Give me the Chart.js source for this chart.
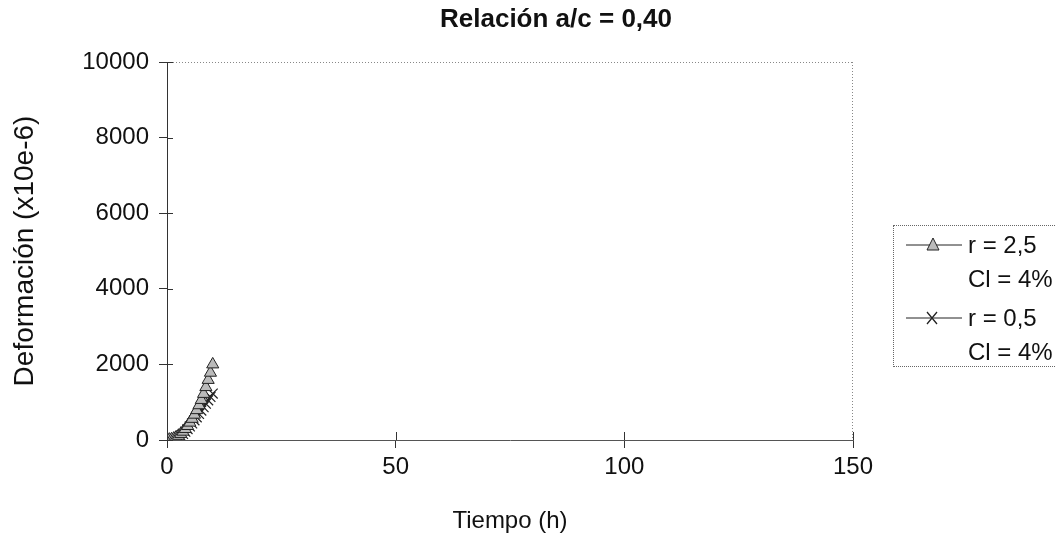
<!DOCTYPE html>
<html>
<head>
<meta charset="utf-8">
<script src="https://cdn.jsdelivr.net/npm/chart.js@4/dist/chart.umd.min.js"></script>
<style>
  html,body{margin:0;padding:0;background:#fff;}
  #wrap{position:relative;width:1055px;height:549px;font-family:"Liberation Sans",Arial,sans-serif;color:#111;}
  #title{position:absolute;left:0;width:1112px;top:3px;text-align:center;font-weight:bold;font-size:26px;}
  #legend{position:absolute;left:893px;top:225px;width:170px;height:142px;border:1px dotted #666;box-sizing:border-box;font-size:24px;}
  .row{position:absolute;left:12px;height:28px;display:flex;align-items:center;white-space:nowrap;}
  .row svg{margin-right:6px;}
  .sub{position:absolute;left:74px;white-space:nowrap;}
</style>
</head>
<body>
<div id="wrap">
  <canvas id="c" width="1055" height="549"></canvas>
  <div id="title">Relación a/c = 0,40</div>
  <div id="legend"></div>
</div>
<script>
// ---- data ----
const tiempo = [0,0.5,1,1.5,2,2.5,3,3.5,4,4.5,5,5.5,6,6.5,7,7.5,8,8.5,9,9.5,10];
const deform_r25 = [0,10,20,40,70,110,160,220,290,370,460,560,670,790,920,1060,1220,1400,1590,1780,2000];
const deform_r05 = [0,5,10,20,40,70,110,160,220,290,360,440,520,600,690,780,870,960,1050,1140,1230];
const seriesLabels = ["r = 2,5", "r = 0,5"];
const seriesSub = ["Cl = 4%", "Cl = 4%"];
const xTicks = [0,50,100,150];
const yTicks = [0,2000,4000,6000,8000,10000];

const toPts = (xs, ys) => xs.map((x,i)=>({x:x,y:ys[i]}));

const frame = {
  id:'frame',
  afterDraw(chart){
    const {ctx, chartArea:a, scales:{x,y}} = chart;
    ctx.save();
    ctx.strokeStyle='#888'; ctx.lineWidth=1; ctx.setLineDash([1,2]);
    ctx.beginPath(); ctx.moveTo(a.left,a.top+0.5); ctx.lineTo(a.right,a.top+0.5);
    ctx.moveTo(a.right-0.5,a.top); ctx.lineTo(a.right-0.5,a.bottom); ctx.stroke();
    ctx.setLineDash([]);
    ctx.strokeStyle='#333';
    ctx.beginPath();
    xTicks.forEach(v=>{const px=Math.round(x.getPixelForValue(v))+0.5; ctx.moveTo(px,a.bottom); ctx.lineTo(px,a.bottom-8);});
    yTicks.forEach(v=>{const py=Math.round(y.getPixelForValue(v))+0.5; ctx.moveTo(a.left,py); ctx.lineTo(a.left+6,py);});
    ctx.stroke();
    ctx.restore();
  }
};

new Chart(document.getElementById('c'), {
  type:'scatter',
  data:{
    datasets:[
      {label:seriesLabels[0], data:toPts(tiempo,deform_r25), showLine:true, borderColor:'#222', borderWidth:1,
       pointStyle:'triangle', pointRadius:7, pointBackgroundColor:'#bbb', pointBorderColor:'#222', pointBorderWidth:1},
      {label:seriesLabels[1], data:toPts(tiempo,deform_r05), showLine:true, borderColor:'#222', borderWidth:1,
       pointStyle:'crossRot', pointRadius:7, pointBorderColor:'#222', pointBorderWidth:1.2}
    ]
  },
  plugins:[frame],
  options:{
    responsive:false, animation:false,
    layout:{padding:{left:0,right:202,top:62,bottom:0}},
    plugins:{legend:{display:false}, title:{display:false}, tooltip:{enabled:false}},
    scales:{
      x:{type:'linear', min:0, max:150,
         afterBuildTicks(s){s.ticks = xTicks.map(v=>({value:v}));},
         afterFit(s){s.height = 109;},
         grid:{drawOnChartArea:false, tickLength:8, color:'#333'},
         border:{color:'#555', width:1},
         ticks:{color:'#111', font:{family:'Liberation Sans', size:24}, padding:5, maxRotation:0,
                callback:(v)=>String(v)},
         title:{display:true, text:'Tiempo (h)', color:'#111', font:{family:'Liberation Sans', size:24}, padding:{top:2, bottom:13}}
      },
      y:{type:'linear', min:0, max:10000,
         afterBuildTicks(s){s.ticks = yTicks.map(v=>({value:v}));},
         afterFit(s){s.width = 167;},
         grid:{drawOnChartArea:false, tickLength:8, color:'#333'},
         border:{color:'#333', width:1},
         ticks:{color:'#111', font:{family:'Liberation Sans', size:24}, padding:10,
                callback:(v)=>String(v)},
         title:{display:true, text:'Deformación (x10e-6)', color:'#111', font:{family:'Liberation Sans', size:28}, padding:{top:8, bottom:0}}
      }
    }
  }
});

// HTML legend
const leg = document.getElementById('legend');
const markerSvg = [
  '<svg width="56" height="20"><line x1="0" y1="10" x2="56" y2="10" stroke="#222" stroke-width="1"/><polygon points="27,3 33,15 21,15" fill="#bbb" stroke="#222" stroke-width="1"/></svg>',
  '<svg width="56" height="20"><line x1="0" y1="10" x2="56" y2="10" stroke="#222" stroke-width="1"/><path d="M21,4 L31,16 M31,4 L21,16" stroke="#222" stroke-width="1.3"/></svg>'
];
const rowTops = [5, 78];
seriesLabels.forEach((lab,i)=>{
  const r = document.createElement('div'); r.className='row'; r.style.top = rowTops[i]+'px';
  r.innerHTML = markerSvg[i] + '<span>'+lab+'</span>';
  leg.appendChild(r);
  const s = document.createElement('div'); s.className='sub'; s.style.top = (rowTops[i]+34)+'px';
  s.textContent = seriesSub[i];
  leg.appendChild(s);
});
</script>
</body>
</html>
